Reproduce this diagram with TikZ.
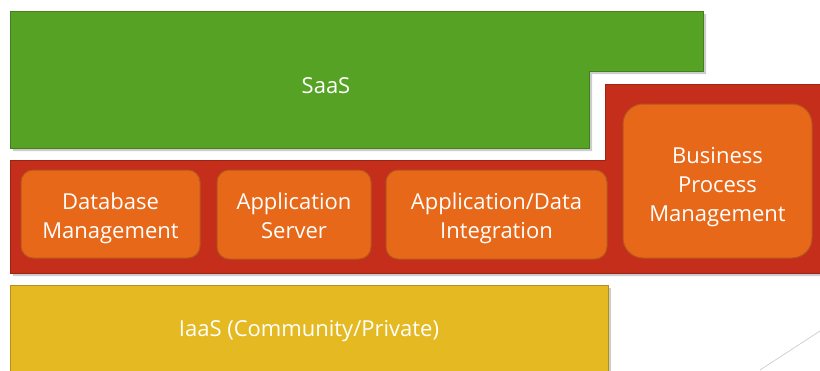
\documentclass[tikz,border=0pt]{standalone}
\usepackage{fontspec}
\setmainfont{Open Sans}
\definecolor{gfill}{HTML}{56A224}
\definecolor{gline}{HTML}{447F1E}
\definecolor{rfill}{HTML}{C42E1A}
\definecolor{rline}{HTML}{9C2414}
\definecolor{ofill}{HTML}{E8681A}
\definecolor{oline}{HTML}{B5561A}
\definecolor{yfill}{HTML}{E5B921}
\definecolor{yline}{HTML}{B3901A}
\tikzset{
  shad/.style={fill=black, opacity=0.2},
  lbl/.style={text=white, font=\fontsize{22}{29}\selectfont, align=center, inner sep=0pt},
  obox/.style={fill=ofill, draw=oline, line width=1pt, rounded corners=12pt, inner sep=0pt}
}
\begin{document}
\begin{tikzpicture}[x=1pt,y=-1pt]
\useasboundingbox (0,0) rectangle (820,370);
% shadows
\fill[shad] (13,14) -- (706,14) -- (706,74) -- (592,74) -- (592,151) -- (13,151) -- cycle;
\fill[shad] (13,163) -- (608,163) -- (608,87) -- (823,87) -- (823,276) -- (13,276) -- cycle;
\fill[shad] (13,288) rectangle (611,373);
% green SaaS
\filldraw[fill=gfill, draw=gline, line width=1pt] (10,11) -- (703,11) -- (703,71) -- (589,71) -- (589,148) -- (10,148) -- cycle;
\node[lbl] (saas) at (326,86) {SaaS};
% red PaaS band
\filldraw[fill=rfill, draw=rline, line width=1pt] (10,160) -- (605,160) -- (605,84) -- (825,84) -- (825,273) -- (10,273) -- cycle;
% yellow IaaS
\filldraw[fill=yfill, draw=yline, line width=1pt] (10,285) -- (608,285) -- (608,380) -- (10,380) -- cycle;
\node[lbl] (iaas) at (309,331) {IaaS (Community/Private)};
% orange boxes
\node[obox, minimum width=179pt, minimum height=88pt,
  label={[lbl,yshift=-4.5pt]center:{Database\\Management}}] (db) at (110.5,214) {};
\node[obox, minimum width=154pt, minimum height=89pt,
  label={[lbl,yshift=-1pt]center:{Application\\Server}}] (as) at (294,214.5) {};
\node[obox, minimum width=221pt, minimum height=89pt,
  label={[lbl,yshift=-4pt]center:{Application/Data\\Integration}}] (adi) at (496.5,214.5) {};
\node[obox, rounded corners=20pt, minimum width=189pt, minimum height=154pt,
  label={[lbl,yshift=-6pt]center:{Business\\Process\\Management}}] (bpm) at (717.5,181) {};
% decorative line
\coordinate (la) at (760,370);
\coordinate (lb) at (820,331);
\draw[black!18, line width=0.8pt] (la) -- (lb);
\end{tikzpicture}
\end{document}
